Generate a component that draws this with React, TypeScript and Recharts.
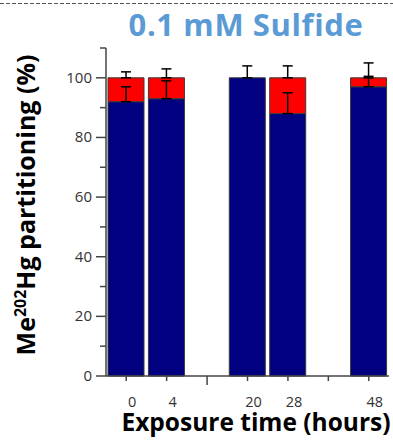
import { BarChart, Bar, XAxis, YAxis, ErrorBar } from 'recharts';

// exposure time slots; empty strings are spacer slots on the axis
const hours = ['0', '4', '', '20', '28', '', '48'];
const baseShare = [92, 93, null, 100, 88, null, 97];
const topShare = [8, 7, null, 0, 12, null, 3];
// whiskers above the navy segment / above the full stack
const baseErr = [5, 6, null, 4, 7, null, 3.5];
const totalErr = [2, 3, null, null, 4, null, 5];
const yTicks = [0, 10, 20, 30, 40, 50, 60, 70, 80, 90, 100, 110];

const data = hours.map((h, i) => ({
  hour: h,
  base: baseShare[i],
  top: topShare[i],
  baseErr: baseErr[i] == null ? null : [0, baseErr[i]],
  totalErr: totalErr[i] == null ? null : [0, totalErr[i]],
}));

const FONT = '"Open Sans", sans-serif';
const AXIS = '#444';

function XTick({ x, y, payload }: any) {
  const long = payload.index === 2;
  return (
    <g>
      <line x1={x} x2={x} y1={y} y2={y + (long ? 9 : 5)} stroke={AXIS} strokeWidth={1.5} />
      {payload.value !== '' && (
        <text x={x + 6} y={y + 31} textAnchor="middle" fontFamily={FONT} fontSize={14.5} fill="#333">
          {payload.value}
        </text>
      )}
    </g>
  );
}

function YTick({ x, y, payload }: any) {
  const major = payload.value % 20 === 0;
  return (
    <g>
      <line x1={x - (major ? 10 : 6)} x2={x} y1={y} y2={y} stroke={AXIS} strokeWidth={1.5} />
      {major && (
        <text x={x - 14} y={y + 5} textAnchor="end" fontFamily={FONT} fontSize={15} fill="#333">
          {payload.value}
        </text>
      )}
    </g>
  );
}

export default function App() {
  return (
    <div style={{ position: 'absolute', left: 0, top: 0, width: 393, height: 440, background: '#fff' }}>
      <svg width={393} height={440} style={{ position: 'absolute', left: 0, top: 0 }}>
        <line x1={0} x2={393} y1={3.5} y2={3.5} stroke="#555" strokeWidth={1} strokeDasharray="4 2" />
        <text x={246} y={36} textAnchor="middle" fontFamily={FONT} fontWeight={700} fontSize={31} letterSpacing={0.6} fill="#5B9BD5">
          0.1 mM Sulfide
        </text>
        <text x={256} y={431} textAnchor="middle" fontFamily={FONT} fontWeight={700} fontSize={24.5} fill="#000">
          Exposure time (hours)
        </text>
        <text
          x={35}
          y={205}
          transform="rotate(-90, 35, 205)"
          textAnchor="middle"
          fontFamily={FONT}
          fontWeight={700}
          fontSize={25}
          fill="#000"
        >
          Me<tspan fontSize={16} dy={-9}>202</tspan>
          <tspan dy={9}>Hg partitioning (%)</tspan>
        </text>
      </svg>
      <div style={{ position: 'absolute', left: 0, top: 0 }}>
        <BarChart
          width={393}
          height={440}
          data={data}
          margin={{ top: 48, right: 4, left: 46, bottom: 34 }}
          barCategoryGap={2}
        >
          <XAxis
            dataKey="hour"
            height={30}
            axisLine={{ stroke: AXIS, strokeWidth: 1.5 }}
            tickLine={false}
            tickSize={0}
            tickMargin={0}
            interval={0}
            tick={<XTick />}
          />
          <XAxis xAxisId="frame" dataKey="hour" orientation="top" height={0} tick={false} tickLine={false} axisLine={{ stroke: AXIS, strokeWidth: 1.5 }} />
          <YAxis
            domain={[0, 110]}
            ticks={yTicks}
            width={60}
            axisLine={{ stroke: AXIS, strokeWidth: 1.5 }}
            tickLine={false}
            tickSize={0}
            tickMargin={0}
            interval={0}
            tick={<YTick />}
          />
          <YAxis yAxisId="frame" orientation="right" domain={[0, 110]} width={0} tick={false} tickLine={false} axisLine={{ stroke: AXIS, strokeWidth: 1.5 }} />
          <Bar dataKey="base" stackId="s" fill="#000080" stroke="#3a3a3a" strokeWidth={1} isAnimationActive={false}>
            <ErrorBar dataKey="baseErr" width={5} stroke="#000" strokeWidth={1.5} />
          </Bar>
          <Bar dataKey="top" stackId="s" fill="#FF0000" stroke="#3a3a3a" strokeWidth={1} isAnimationActive={false}>
            <ErrorBar dataKey="totalErr" width={5} stroke="#000" strokeWidth={1.5} />
          </Bar>
        </BarChart>
      </div>
    </div>
  );
}
